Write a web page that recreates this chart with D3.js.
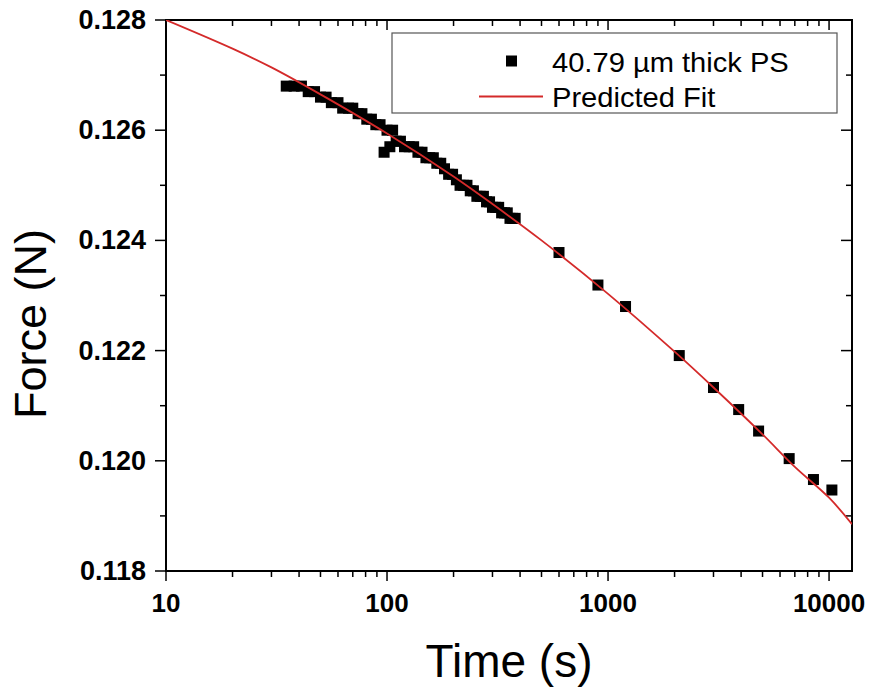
<!DOCTYPE html>
<html>
<head>
<meta charset="utf-8">
<script src="https://cdn.jsdelivr.net/npm/d3@7/dist/d3.min.js"></script>
<style>
  body { margin: 0; background: #fff; }
  text { font-family: "Liberation Sans", Arial, sans-serif; }
</style>
</head>
<body>
<div id="chart"></div>
<script>
// Force relaxation data
var timeData = [35, 38, 41, 44, 47, 50, 53, 56, 60, 63, 67, 70, 74, 77, 81, 85, 89, 93, 97, 100,
    103, 106, 110, 115, 120, 126, 132, 138, 144, 150, 156, 162, 168, 175, 182, 190, 198, 206,
    214, 222, 230, 238, 246, 255, 264, 273, 282, 291, 300, 310, 320, 330, 340, 350, 360, 370, 380,
    600, 900, 1200, 2100, 3000, 3900, 4800, 6600, 8500, 10300];
var forceData = [0.1268, 0.1268, 0.1268, 0.1267, 0.1267, 0.1266, 0.1266, 0.1265, 0.1265, 0.1264,
    0.1264, 0.1264, 0.1263, 0.1263, 0.1262, 0.1262, 0.1261, 0.1261, 0.1256, 0.1260,
    0.1257, 0.1260, 0.1258, 0.1258, 0.1257, 0.1257, 0.1257, 0.1256, 0.1256, 0.1255, 0.1255, 0.1255,
    0.1254, 0.1254, 0.1253, 0.1252, 0.1252, 0.1251, 0.1250, 0.1250, 0.1250, 0.1249, 0.1249,
    0.1248, 0.1248, 0.1248, 0.1247, 0.1247, 0.1246, 0.1246, 0.1246, 0.1245, 0.1245, 0.1245,
    0.1244, 0.1244, 0.1244,
    0.12378, 0.12319, 0.12280, 0.12191, 0.12133, 0.12093, 0.12054, 0.12004, 0.11966, 0.11947];

// Predicted fit curve
var fitTime = [10, 20, 30, 50, 100, 200, 300, 500, 1000, 2000, 3000, 5000, 7000, 10000, 12700];
var fitForce = [0.12800, 0.12748, 0.12714, 0.12665, 0.12594, 0.12516, 0.12466, 0.12400, 0.12303,
    0.12198, 0.12133, 0.12048, 0.11989, 0.11933, 0.11885];

var xTicks = [10, 100, 1000, 10000];
var yTicks = [0.118, 0.120, 0.122, 0.124, 0.126, 0.128];
var legendLabels = ["40.79 \u00b5m thick PS", "Predicted Fit"];

var width = 872, height = 693;
var plot = {left: 166, right: 852, top: 20, bottom: 571};
var red = "#d42a2a";

var svg = d3.select("#chart").append("svg")
    .attr("width", width)
    .attr("height", height);

var x = d3.scaleLog().domain([10, 12700]).range([plot.left, plot.right]);
var y = d3.scaleLinear().domain([0.118, 0.128]).range([plot.bottom, plot.top]);

// minor ticks
var xMinor = [];
[10, 100, 1000, 10000].forEach(function(d) {
    for (var k = 2; k <= 9; k++) if (d * k <= 12700) xMinor.push(d * k);
});
var yMinor = [0.119, 0.121, 0.123, 0.125, 0.127];

svg.append("defs").append("clipPath").attr("id", "clip")
  .append("rect")
    .attr("x", plot.left).attr("y", plot.top)
    .attr("width", plot.right - plot.left).attr("height", plot.bottom - plot.top);

var ticks = svg.append("g").attr("stroke", "#000").attr("stroke-width", 1.5);

function tickLines(vals, len, side) {
    vals.forEach(function(v) {
        if (side == "bottom") ticks.append("line").attr("x1", x(v)).attr("x2", x(v)).attr("y1", plot.bottom).attr("y2", plot.bottom + len);
        if (side == "top") ticks.append("line").attr("x1", x(v)).attr("x2", x(v)).attr("y1", plot.top).attr("y2", plot.top + len);
        if (side == "left") ticks.append("line").attr("y1", y(v)).attr("y2", y(v)).attr("x1", plot.left).attr("x2", plot.left - len);
        if (side == "right") ticks.append("line").attr("y1", y(v)).attr("y2", y(v)).attr("x1", plot.right).attr("x2", plot.right - len);
    });
}
tickLines(xTicks, 10, "bottom");
tickLines(xMinor, 6, "bottom");
tickLines(xTicks, 10, "top");
tickLines(xMinor, 6, "top");
tickLines(yTicks, 11, "left");
tickLines(yMinor, 6, "left");
tickLines(yTicks, 11, "right");
tickLines(yMinor, 6, "right");

// frame
svg.append("rect")
    .attr("x", plot.left).attr("y", plot.top)
    .attr("width", plot.right - plot.left).attr("height", plot.bottom - plot.top)
    .attr("fill", "none").attr("stroke", "#000").attr("stroke-width", 2);

// tick labels
svg.append("g").selectAll("text").data(xTicks).enter().append("text")
    .attr("x", function(d) { return x(d); })
    .attr("y", 612)
    .attr("text-anchor", "middle")
    .attr("font-size", 26).attr("font-weight", "bold")
    .text(function(d) { return d; });

svg.append("g").selectAll("text").data(yTicks).enter().append("text")
    .attr("x", 146)
    .attr("y", function(d) { return y(d) + 9; })
    .attr("text-anchor", "end")
    .attr("font-size", 27).attr("font-weight", "bold")
    .text(function(d) { return d3.format(".3f")(d); });

// axis titles
svg.append("text")
    .attr("x", (plot.left + plot.right) / 2).attr("y", 677)
    .attr("text-anchor", "middle")
    .attr("font-size", 46)
    .text("Time (s)");

svg.append("text")
    .attr("transform", "translate(46,324) rotate(-90)")
    .attr("text-anchor", "middle")
    .attr("font-size", 45)
    .text("Force (N)");

// data squares
var pts = timeData.map(function(t, i) { return {t: t, f: forceData[i]}; });
svg.append("g").selectAll("rect").data(pts).enter().append("rect")
    .attr("x", function(d) { return x(d.t) - 5.5; })
    .attr("y", function(d) { return y(d.f) - 5.5; })
    .attr("width", 11).attr("height", 11)
    .attr("fill", "#000");

// fit line
var fit = fitTime.map(function(t, i) { return [t, fitForce[i]]; });
var line = d3.line()
    .x(function(d) { return x(d[0]); })
    .y(function(d) { return y(d[1]); })
    .curve(d3.curveCatmullRom);

svg.append("path")
    .datum(fit)
    .attr("clip-path", "url(#clip)")
    .attr("d", line)
    .attr("fill", "none")
    .attr("stroke", red)
    .attr("stroke-width", 1.8);

// legend
var legend = svg.append("g");
legend.append("rect")
    .attr("x", 392).attr("y", 33).attr("width", 445).attr("height", 80)
    .attr("fill", "#fff").attr("stroke", "#555").attr("stroke-width", 1.2);
legend.append("rect")
    .attr("x", 506).attr("y", 55.5).attr("width", 11).attr("height", 11)
    .attr("fill", "#000");
legend.append("line")
    .attr("x1", 479).attr("x2", 543).attr("y1", 96.5).attr("y2", 96.5)
    .attr("stroke", red).attr("stroke-width", 2);
legend.selectAll("text.lg").data(legendLabels).enter().append("text")
    .attr("class", "lg")
    .attr("transform", function(d, i) { return "translate(552," + (72 + i * 35) + ") scale(1.04,1)"; })
    .attr("font-size", 28)
    .text(function(d) { return d; });
</script>
</body>
</html>
